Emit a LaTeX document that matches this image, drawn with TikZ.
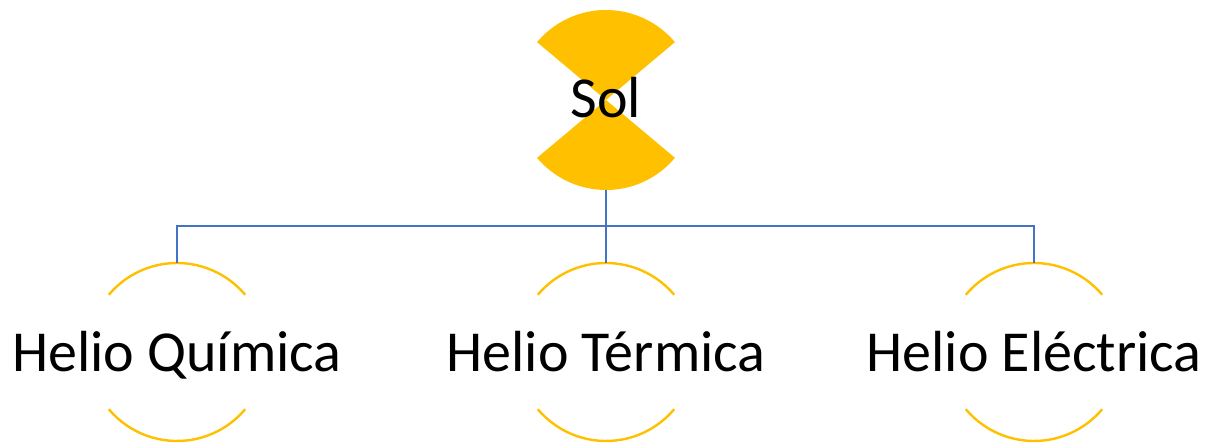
\documentclass[tikz,border=0pt]{standalone}
\usepackage{fontspec}
\setmainfont{Carlito}
\definecolor{sungold}{HTML}{FFC000}
\definecolor{linkblue}{HTML}{4472C4}
\tikzset{
  label text/.style={inner sep=0pt, anchor=base, font=\fontsize{58}{58}\selectfont},
  ring arc/.style={draw=sungold, line width=2.4pt},
  conn/.style={draw=linkblue, line width=2pt},
}
\begin{document}
\begin{tikzpicture}[x=1pt,y=1pt]
\useasboundingbox (0,0) rectangle (1208,443);
% sun: two opposite pie wedges
\coordinate (sunc) at (606,343);
\fill[sungold] (sunc) -- ++(40:90) arc[start angle=40,end angle=140,radius=90] -- cycle;
\fill[sungold] (sunc) -- ++(220:90) arc[start angle=220,end angle=320,radius=90] -- cycle;
\node[label text] (sol) at (606,325) {Sol};
\coordinate (solb) at (606,253);
% children
\foreach \n/\x/\t in {hq/177/{Helio Química}, ht/606/{Helio Térmica}, he/1034/{Helio Eléctrica}}{
  \coordinate (\n c) at (\x,91);
  \draw[ring arc] (\n c) ++(40:89) arc[start angle=40,end angle=140,radius=89];
  \draw[ring arc] (\n c) ++(220:89) arc[start angle=220,end angle=320,radius=89];
  \coordinate (\n t) at (\x,180);
  \node[label text] (\n) at (\x,71) {\t};
}
% connectors
\draw[conn] (solb) -- ++(0,-36) -| (hqt);
\draw[conn] (solb) -- (htt);
\draw[conn] (solb) -- ++(0,-36) -| (het);
\end{tikzpicture}
\end{document}
